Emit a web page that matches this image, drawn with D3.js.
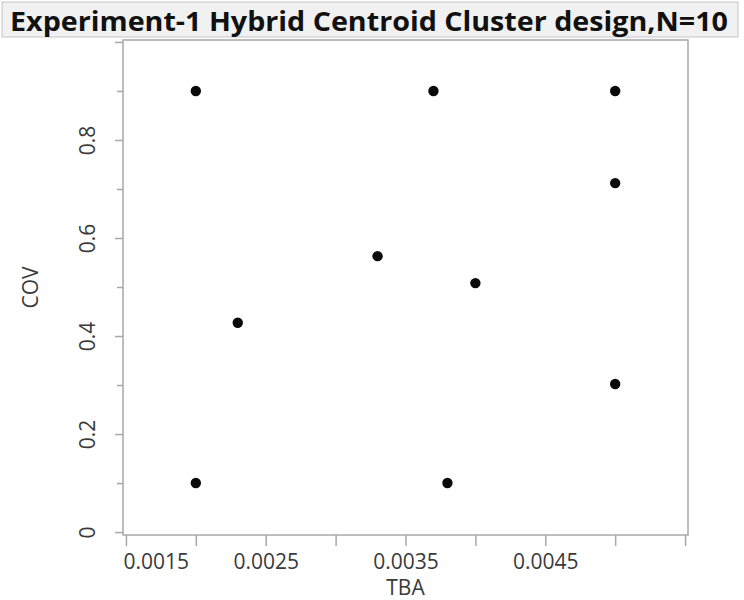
<!DOCTYPE html>
<html>
<head>
<meta charset="utf-8">
<script src="https://cdn.jsdelivr.net/npm/d3@7"></script>
<style>
  html, body { margin: 0; padding: 0; background: #ffffff; }
  svg { display: block; }
  text { font-family: "Open Sans", "Noto Sans", sans-serif; }
</style>
</head>
<body>
<svg id="chart" width="744" height="600"></svg>
<script>
// Design points: TBA (x) and COV (y)
const tba = [0.0020, 0.0037, 0.0050, 0.0050, 0.0033, 0.0040, 0.0023, 0.0050, 0.0020, 0.0038];
const cov = [0.900, 0.900, 0.900, 0.712, 0.563, 0.508, 0.427, 0.302, 0.100, 0.100];

const titleText = "Experiment-1 Hybrid Centroid Cluster design,N=10";
const xTitle = "TBA";
const yTitle = "COV";

const xTicks = [0.0015, 0.0020, 0.0025, 0.0030, 0.0035, 0.0040, 0.0045, 0.0050, 0.0055];
const xTickLabels = ["0.0015", "", "0.0025", "", "0.0035", "", "0.0045", "", ""];
const yMajor = [0, 0.2, 0.4, 0.6, 0.8, 1.0];
const yMajorLabels = ["0", "0.2", "0.4", "0.6", "0.8", ""];
const yMinor = [0.1, 0.3, 0.5, 0.7, 0.9];

const svg = d3.select("#chart");

// Frame of the plot area
const frame = { left: 123, right: 688, top: 40, bottom: 535 };

const x = d3.scaleLinear().domain([0.001479, 0.005521]).range([frame.left, frame.right]);
const y = d3.scaleLinear().domain([-0.006, 1.004]).range([frame.bottom, frame.top]);

const axisGrey = "#a8a8a8";
const labelColor = "#3a3a3a";

// Title bar
svg.append("rect")
  .attr("x", 2).attr("y", 2).attr("width", 736).attr("height", 35)
  .attr("fill", "#f1f1f1").attr("stroke", "#c4c4c4").attr("stroke-width", 1);
svg.append("text")
  .attr("x", 10).attr("y", 31)
  .attr("font-size", 26).attr("font-weight", 700).attr("fill", "#111")
  .attr("textLength", 718).attr("lengthAdjust", "spacingAndGlyphs")
  .text(titleText);

// Plot frame
svg.append("rect")
  .attr("x", frame.left).attr("y", frame.top)
  .attr("width", frame.right - frame.left).attr("height", frame.bottom - frame.top)
  .attr("fill", "#fff").attr("stroke", axisGrey).attr("stroke-width", 1.5);

// X axis
const xAxis = svg.append("g")
  .attr("transform", `translate(0,${frame.bottom})`)
  .call(d3.axisBottom(x).tickValues(xTicks).tickSize(11).tickPadding(8)
    .tickFormat((d, i) => xTickLabels[i]));
xAxis.select(".domain").remove();
xAxis.selectAll(".tick line").attr("stroke", axisGrey).attr("stroke-width", 1.5);
xAxis.selectAll(".tick text")
  .attr("font-size", 21).attr("fill", labelColor)
  .attr("font-family", "\"Open Sans\", sans-serif");
// The first label is kept inside the frame's left edge
xAxis.selectAll(".tick text").filter((d, i) => i === 0)
  .attr("text-anchor", "start").attr("dx", -3);

// Y axis: major ticks with labels, minor ticks between
const yAxis = svg.append("g")
  .attr("transform", `translate(${frame.left},0)`)
  .call(d3.axisLeft(y).tickValues(yMajor).tickSize(8).tickPadding(0)
    .tickFormat((d, i) => yMajorLabels[i]));
yAxis.select(".domain").remove();
yAxis.selectAll(".tick line").attr("stroke", axisGrey).attr("stroke-width", 1.5);
yAxis.selectAll(".tick text")
  .attr("font-size", 21).attr("fill", labelColor)
  .attr("font-family", "\"Open Sans\", sans-serif")
  .attr("text-anchor", "middle")
  .attr("dy", null)
  .attr("x", null)
  .attr("transform", "translate(-28,0) rotate(-90)")
  .attr("y", 0);

const yAxisMinor = svg.append("g")
  .attr("transform", `translate(${frame.left},0)`)
  .call(d3.axisLeft(y).tickValues(yMinor).tickSize(6).tickFormat(""));
yAxisMinor.select(".domain").remove();
yAxisMinor.selectAll(".tick line").attr("stroke", axisGrey).attr("stroke-width", 1.5);

// Axis titles
svg.append("text")
  .attr("x", (frame.left + frame.right) / 2).attr("y", 595)
  .attr("text-anchor", "middle").attr("font-size", 21).attr("fill", labelColor)
  .text(xTitle);
svg.append("text")
  .attr("transform", `translate(38,${(frame.top + frame.bottom) / 2}) rotate(-90)`)
  .attr("text-anchor", "middle").attr("font-size", 21).attr("fill", labelColor)
  .text(yTitle);

// Points
svg.append("g")
  .selectAll("circle")
  .data(tba.map((t, i) => ({ t, c: cov[i] })))
  .join("circle")
  .attr("cx", d => x(d.t))
  .attr("cy", d => y(d.c))
  .attr("r", 5.2)
  .attr("fill", "#0a0a0a");
</script>
</body>
</html>
